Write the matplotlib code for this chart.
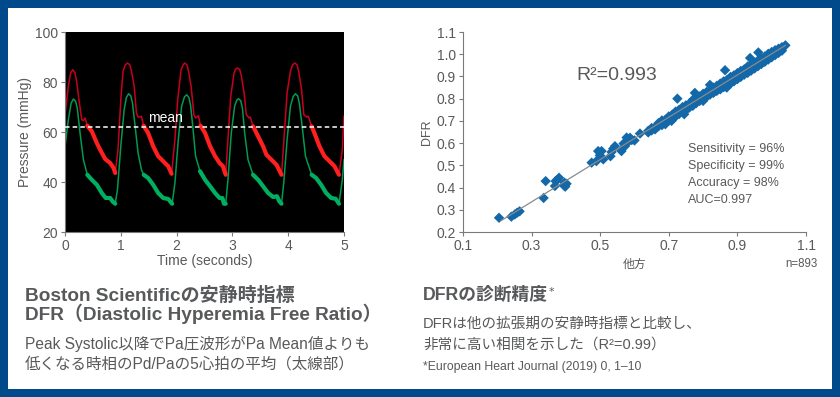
import numpy as np
import matplotlib
matplotlib.use("Agg")
import matplotlib.pyplot as plt
from matplotlib.patches import Rectangle

# ---------------- data: pressure waveforms ----------------
red_t = [0.00, 0.06, 0.10, 0.14, 0.18, 0.21, 0.25, 0.30, 0.33, 0.36, 0.40, 0.48, 0.57, 0.63, 0.72, 0.81, 0.87, 0.90,
         0.95, 1.00, 1.04, 1.08, 1.12, 1.16, 1.19, 1.24, 1.28, 1.31, 1.34, 1.37, 1.41, 1.49, 1.58, 1.67, 1.76, 1.85, 1.91,
         1.97, 2.02, 2.08, 2.12, 2.15, 2.19, 2.22, 2.26, 2.31, 2.34, 2.39, 2.43, 2.51, 2.60, 2.69, 2.77, 2.83, 2.88,
         2.92, 2.97, 3.03, 3.06, 3.09, 3.13, 3.16, 3.21, 3.25, 3.30, 3.32, 3.37, 3.46, 3.55, 3.61, 3.70, 3.79, 3.88,
         3.92, 3.98, 4.04, 4.08, 4.12, 4.16, 4.19, 4.24, 4.28, 4.33, 4.36, 4.42, 4.47, 4.56, 4.65, 4.74, 4.83, 4.91,
         4.97, 5.00]
red_p = [66.9, 78.3, 83.6, 84.9, 83.6, 80.0, 72.9, 64.9, 64.6, 65.6, 62.5, 60.3, 55.6, 52.9, 49.2, 47.6, 45.6, 43.6,
         52.9, 72.9, 84.3, 86.8, 87.6, 86.9, 84.5, 78.3, 67.6, 66.0, 66.0, 66.3, 62.5, 59.6, 54.3, 50.3, 48.3, 46.3, 43.3,
         57.0, 72.9, 84.9, 87.0, 87.6, 86.6, 83.5, 78.3, 66.9, 65.6, 66.5, 62.5, 59.6, 54.3, 50.3, 47.6, 46.3, 42.9,
         57.0, 74.3, 83.6, 85.2, 85.6, 85.0, 82.5, 75.6, 66.9, 65.6, 66.0, 62.3, 58.3, 54.3, 50.9, 48.9, 46.9, 42.9,
         55.6, 75.6, 84.3, 86.9, 87.6, 86.8, 84.0, 76.9, 66.9, 66.0, 66.3, 62.3, 59.6, 54.3, 50.3, 48.3, 46.3, 42.9,
         52.9, 66.3]

green_t = [0.00, 0.06, 0.11, 0.15, 0.19, 0.22, 0.27, 0.33, 0.40, 0.48, 0.57, 0.66, 0.73, 0.81, 0.85, 0.90,
           0.94, 1.00, 1.06, 1.10, 1.14, 1.18, 1.21, 1.25, 1.31, 1.37, 1.41, 1.49, 1.58, 1.67, 1.76, 1.85, 1.92,
           1.97, 2.03, 2.09, 2.14, 2.18, 2.22, 2.25, 2.29, 2.34, 2.42, 2.51, 2.60, 2.69, 2.77, 2.82, 2.85, 2.88,
           2.92, 2.98, 3.04, 3.08, 3.11, 3.15, 3.18, 3.22, 3.28, 3.37, 3.46, 3.55, 3.64, 3.73, 3.80, 3.84, 3.88,
           3.92, 3.98, 4.04, 4.09, 4.13, 4.17, 4.20, 4.25, 4.31, 4.42, 4.50, 4.59, 4.68, 4.77, 4.85, 4.91,
           4.97, 5.00]
green_p = [54.3, 64.9, 71.5, 73.2, 72.3, 69.5, 59.6, 48.9, 42.9, 40.9, 38.9, 35.6, 33.6, 33.6, 32.3, 31.3,
           36.9, 54.3, 68.9, 73.8, 75.3, 74.4, 71.5, 63.6, 51.6, 44.9, 42.9, 41.6, 38.9, 35.6, 33.6, 33.2, 31.3,
           39.6, 56.9, 70.3, 74.0, 74.9, 73.8, 70.8, 62.3, 50.3, 44.3, 40.9, 38.3, 35.6, 33.6, 33.6, 31.3, 31.3,
           40.9, 59.6, 70.3, 72.8, 73.3, 72.5, 69.5, 59.6, 48.9, 42.9, 40.9, 38.3, 35.6, 34.0, 34.3, 32.3, 31.3,
           39.6, 56.9, 70.3, 74.2, 75.3, 74.4, 71.5, 62.3, 50.3, 42.9, 41.6, 38.9, 35.6, 33.6, 33.3, 31.3,
           40.9, 48.9]

thick_start = [0.40, 1.41, 2.42, 3.37, 4.42]
thick_end = [0.90, 1.92, 2.88, 3.88, 4.91]
mean_level = 62

# ---------------- data: DFR scatter ----------------
scatter_x = [0.205, 0.241, 0.251, 0.258, 0.265, 0.335, 0.341, 0.370, 0.380, 0.368, 0.375, 0.394, 0.402,
             0.398, 0.396, 0.475, 0.489, 0.494, 0.504, 0.499, 0.509, 0.530, 0.543, 0.538, 0.533, 0.562,
             0.572, 0.577, 0.587, 0.582, 0.592, 0.568, 0.616, 0.600,
             0.725, 0.864, 0.961, 0.937, 0.708, 0.869, 0.776, 0.820, 0.690, 0.745, 0.800,
             0.64, 0.64, 0.65, 0.65, 0.66, 0.66, 0.67, 0.67, 0.68, 0.68, 0.69, 0.69, 0.70, 0.70,
             0.71, 0.71, 0.72, 0.72, 0.73, 0.73, 0.74, 0.74, 0.75, 0.75, 0.76, 0.76, 0.77, 0.77,
             0.78, 0.78, 0.79, 0.79, 0.80, 0.80, 0.81, 0.81, 0.82, 0.82, 0.83, 0.83, 0.84, 0.84,
             0.85, 0.85, 0.86, 0.86, 0.87, 0.87, 0.88, 0.88, 0.89, 0.89, 0.90, 0.90, 0.91, 0.91,
             0.92, 0.92, 0.93, 0.93, 0.94, 0.94, 0.95, 0.95, 0.96, 0.96, 0.97, 0.97, 0.98, 0.98,
             0.99, 0.99, 1.00, 1.00, 1.01, 1.01, 1.02, 1.02, 1.03, 1.03, 1.04]
scatter_y = [0.264, 0.269, 0.279, 0.287, 0.293, 0.353, 0.429, 0.429, 0.444, 0.407, 0.435, 0.410, 0.417,
             0.404, 0.422, 0.512, 0.519, 0.564, 0.564, 0.545, 0.527, 0.541, 0.586, 0.575, 0.560, 0.564,
             0.586, 0.625, 0.624, 0.606, 0.614, 0.598, 0.643, 0.612,
             0.800, 0.928, 1.008, 0.983, 0.700, 0.850, 0.826, 0.862, 0.685, 0.730, 0.790,
             0.655, 0.648, 0.668, 0.657, 0.672, 0.662, 0.690, 0.676, 0.702, 0.681, 0.705, 0.690, 0.720, 0.702,
             0.728, 0.712, 0.742, 0.720, 0.750, 0.731, 0.762, 0.740, 0.770, 0.748, 0.778, 0.760, 0.795, 0.768,
             0.802, 0.780, 0.810, 0.790, 0.822, 0.800, 0.830, 0.808, 0.838, 0.818, 0.850, 0.826, 0.858, 0.835,
             0.868, 0.842, 0.878, 0.852, 0.885, 0.860, 0.898, 0.868, 0.905, 0.878, 0.915, 0.888, 0.925, 0.898,
             0.932, 0.908, 0.945, 0.916, 0.952, 0.926, 0.962, 0.936, 0.972, 0.946, 0.982, 0.956, 0.990, 0.966,
             1.002, 0.976, 1.010, 0.986, 1.018, 0.996, 1.025, 1.006, 1.032, 1.016, 1.040]
fit_x = [0.21, 1.04]
fit_y = [0.25, 1.04]

# ---------------- style ----------------
BLUE = "#004a8b"
TXT = "#58595b"
MIX = ["Liberation Sans", "Noto Sans CJK JP"]
plt.rcParams["font.family"] = MIX

W, H = 840, 397
fig = plt.figure(figsize=(W / 100, H / 100), dpi=100, facecolor=BLUE)
fig.patches.append(Rectangle((8 / W, 1 - 389 / H), 824 / W, 381 / H, transform=fig.transFigure,
                             facecolor="white", edgecolor="none", zorder=-10))


def fx(px):
    return px / W


def fy(py):
    return 1 - py / H


# ---------------- left chart ----------------
ax1 = fig.add_axes([fx(65), fy(232), 279 / W, 200 / H])
ax1.set_zorder(2)
ax1.set_facecolor("black")
t_r = np.array(red_t); p_r = np.array(red_p)
t_g = np.array(green_t); p_g = np.array(green_p)
ax1.plot(t_r, p_r, color="#c8001e", lw=1.1, solid_joinstyle="round", zorder=2)
ax1.plot(t_g, p_g, color="#009a50", lw=1.1, solid_joinstyle="round", zorder=2)
for s, e in zip(thick_start, thick_end):
    m = (t_r >= s) & (t_r <= e)
    ax1.plot(t_r[m], p_r[m], color="#ff1f1f", lw=3, solid_capstyle="round", solid_joinstyle="round", zorder=3)
    m = (t_g >= s) & (t_g <= e)
    ax1.plot(t_g[m], p_g[m], color="#00b060", lw=3, solid_capstyle="round", solid_joinstyle="round", zorder=3)
ax1.axhline(mean_level, color="white", lw=1.1, ls=(0, (3, 2)), zorder=4)
ax1.text(1.48, mean_level + 1.0, "mean", color="white", fontsize=10, va="bottom", ha="left",
         family="Liberation Sans")
ax1.set_xlim(0, 5)
ax1.set_ylim(20, 100)
ax1.set_xticks([0, 1, 2, 3, 4, 5])
ax1.set_yticks([20, 40, 60, 80, 100])
for sp in ["top", "right"]:
    ax1.spines[sp].set_visible(False)
for sp in ["left", "bottom"]:
    ax1.spines[sp].set_color("#7a7a7a")
    ax1.spines[sp].set_linewidth(0.8)
ax1.tick_params(colors="#7a7a7a", labelcolor=TXT, labelsize=10, length=3, width=0.8, pad=2)
ax1.set_xlabel("Time (seconds)", color=TXT, fontsize=10, labelpad=1)
ax1.set_ylabel("Pressure (mmHg)", color=TXT, fontsize=10, labelpad=2)

# ---------------- right chart ----------------
ax2 = fig.add_axes([fx(463), fy(232), 343 / W, 200 / H])
ax2.set_zorder(2)
ax2.patch.set_alpha(0)
ax2.scatter(scatter_x, scatter_y, marker="D", s=28, color="#1268a8", edgecolors="none", zorder=2)
ax2.plot(fit_x, fit_y, color="#8a8a8a", lw=0.9, zorder=3)
ax2.set_xlim(0.1, 1.1)
ax2.set_ylim(0.2, 1.1)
ax2.set_xticks([0.1, 0.3, 0.5, 0.7, 0.9, 1.1])
ax2.set_yticks([0.2, 0.3, 0.4, 0.5, 0.6, 0.7, 0.8, 0.9, 1.0, 1.1])
ax2.xaxis.set_major_formatter(matplotlib.ticker.FormatStrFormatter("%.1f"))
ax2.yaxis.set_major_formatter(matplotlib.ticker.FormatStrFormatter("%.1f"))
for sp in ["top", "right"]:
    ax2.spines[sp].set_visible(False)
for sp in ["left", "bottom"]:
    ax2.spines[sp].set_color("#7a7a7a")
    ax2.spines[sp].set_linewidth(0.8)
ax2.tick_params(colors="#7a7a7a", labelcolor=TXT, labelsize=10, length=3, width=0.8, pad=2)
ax2.set_xlabel("他方", color=TXT, fontsize=8.5, labelpad=4)
ax2.set_ylabel("DFR", color=TXT, fontsize=9, labelpad=3)
ax2.text(0.43, 0.906, "R²=0.993", color=TXT, fontsize=14, va="center", ha="left")
stats = ["Sensitivity = 96%", "Specificity = 99%", "Accuracy = 98%", "AUC=0.997"]
for i, s in enumerate(stats):
    ax2.text(0.756, 0.5735 - i * 0.0765, s, color=TXT, fontsize=9, va="center", ha="left")
fig.text(fx(818), fy(264), "n=893", color=TXT, fontsize=8.3, ha="right", va="center")

# ---------------- captions ----------------
fig.text(fx(25), fy(296), "Boston Scientificの安静時指標", color=TXT, fontsize=13.7,
         fontweight="bold", ha="left", va="center")
fig.text(fx(25), fy(314), "DFR（Diastolic Hyperemia Free Ratio）", color=TXT, fontsize=13.7,
         fontweight="bold", ha="left", va="center")
fig.text(fx(25), fy(344), "Peak Systolic以降でPa圧波形がPa Mean値よりも", color=TXT, fontsize=11.2,
         ha="left", va="center")
fig.text(fx(25), fy(364), "低くなる時相のPd/Paの5心拍の平均（太線部）", color=TXT, fontsize=11.2,
         ha="left", va="center")

fig.text(fx(423), fy(295), "DFRの診断精度", color=TXT, fontsize=12.8, fontweight="bold",
         ha="left", va="center")
fig.text(fx(549), fy(292), "*", color=TXT, fontsize=8, ha="left", va="center", family="DejaVu Sans")
fig.text(fx(423), fy(324), "DFRは他の拡張期の安静時指標と比較し、", color=TXT, fontsize=10.5,
         ha="left", va="center")
fig.text(fx(423), fy(345), "非常に高い相関を示した（R²=0.99）", color=TXT, fontsize=10.5,
         ha="left", va="center")
fig.text(fx(423), fy(367), "*European Heart Journal (2019) 0, 1–10", color=TXT, fontsize=8.8,
         ha="left", va="center")

fig.savefig("out.png", dpi=100, facecolor=BLUE)
